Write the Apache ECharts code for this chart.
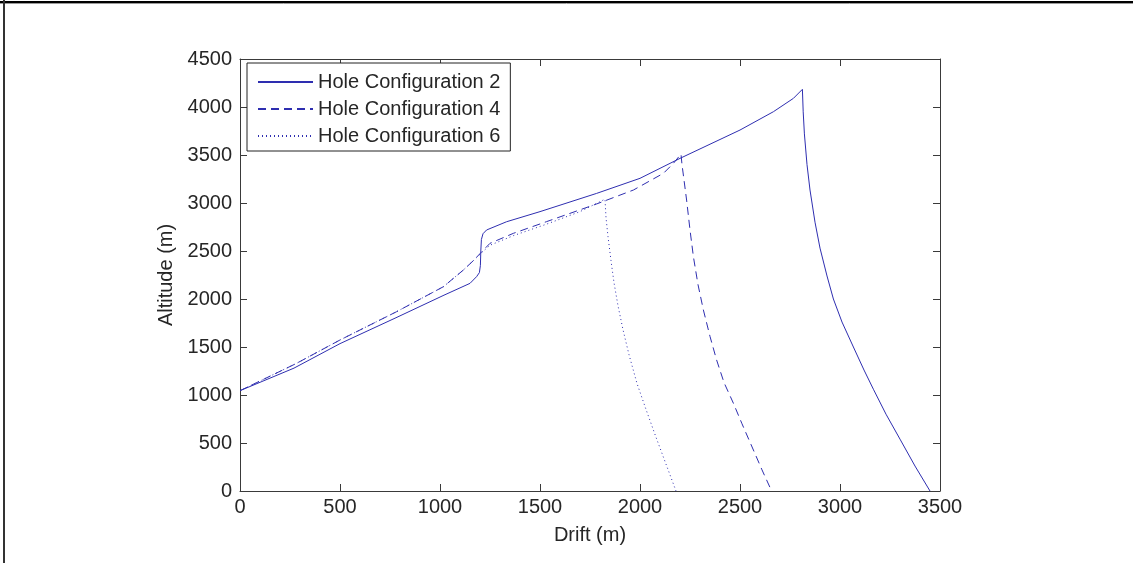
<!DOCTYPE html>
<html>
<head>
<meta charset="utf-8">
<script src="https://cdn.jsdelivr.net/npm/echarts@6/dist/echarts.min.js"></script>
<style>
html,body{margin:0;padding:0;background:#fff;}
#chart{width:1133px;height:563px;}
</style>
</head>
<body>
<div id="chart"></div>
<script>
// ---- data ----
const seriesNames = ['Hole Configuration 2', 'Hole Configuration 4', 'Hole Configuration 6'];
const xTicks = [0, 500, 1000, 1500, 2000, 2500, 3000, 3500];
const yTicks = [0, 500, 1000, 1500, 2000, 2500, 3000, 3500, 4000, 4500];

const drift2 = [0, 270, 500, 780, 1020, 1150, 1183, 1197, 1202, 1204, 1207, 1215, 1233, 1333, 1500, 1783, 2000, 2200, 2500, 2667, 2767, 2812, 2816, 2822, 2835, 2850, 2875, 2900, 2935, 2967, 3010, 3067, 3120, 3167, 3230, 3300, 3375, 3450];
const alt2   = [1045, 1280, 1535, 1805, 2040, 2163, 2233, 2275, 2350, 2500, 2620, 2680, 2719, 2805, 2910, 3100, 3257, 3465, 3760, 3951, 4090, 4184, 3950, 3720, 3400, 3135, 2800, 2530, 2240, 2000, 1760, 1500, 1260, 1060, 800, 540, 260, 0];

const drift4 = [0, 283, 500, 783, 1017, 1117, 1167, 1217, 1250, 1367, 1533, 1783, 1967, 2117, 2167, 2205, 2210, 2233, 2250, 2267, 2290, 2317, 2350, 2383, 2420, 2467, 2510, 2567, 2610, 2658];
const alt4   = [1045, 1330, 1573, 1868, 2128, 2302, 2400, 2510, 2580, 2684, 2806, 2990, 3135, 3309, 3413, 3510, 3400, 3031, 2720, 2441, 2150, 1885, 1610, 1365, 1130, 914, 700, 427, 220, 0];

const drift6 = [0, 283, 500, 783, 1017, 1117, 1167, 1217, 1250, 1367, 1533, 1700, 1825, 1830, 1840, 1855, 1870, 1890, 1915, 1945, 1985, 2030, 2080, 2130, 2180];
const alt6   = [1045, 1330, 1573, 1868, 2128, 2302, 2400, 2500, 2560, 2660, 2780, 2910, 3040, 2850, 2650, 2400, 2170, 1930, 1680, 1420, 1120, 850, 560, 280, 0];

function pairs(xs, ys) { return xs.map((x, i) => [x, ys[i]]); }

const lineColor = '#2e2eb0';
const textColor = '#262626';
const axisColor = '#3a3a3a';
const font = 'Liberation Sans, Arial, sans-serif';

const chart = echarts.init(document.getElementById('chart'), null, {renderer: 'canvas'});

function plain(v) { return String(v); }

function xAxisBase(pos, showLabel) {
  return {
    type: 'value', position: pos, min: xTicks[0], max: xTicks[xTicks.length - 1], interval: 500,
    axisLine: {show: true, onZero: false, lineStyle: {color: axisColor, width: 1}},
    axisTick: {show: true, inside: true, length: 7, lineStyle: {color: axisColor}},
    axisLabel: {show: showLabel, color: textColor, fontFamily: font, fontSize: 20, margin: 6, formatter: plain},
    splitLine: {show: false}
  };
}
function yAxisBase(pos, showLabel) {
  return {
    type: 'value', position: pos, min: yTicks[0], max: yTicks[yTicks.length - 1], interval: 500,
    axisLine: {show: true, onZero: false, lineStyle: {color: axisColor, width: 1}},
    axisTick: {show: true, inside: true, length: 7, lineStyle: {color: axisColor}},
    axisLabel: {show: showLabel, color: textColor, fontFamily: font, fontSize: 20, margin: 8, formatter: plain},
    splitLine: {show: false}
  };
}

const xa0 = xAxisBase('bottom', true);
xa0.name = 'Drift (m)';
xa0.nameLocation = 'middle';
xa0.nameGap = 34;
xa0.nameTextStyle = {color: textColor, fontFamily: font, fontSize: 20};
const ya0 = yAxisBase('left', true);
ya0.name = 'Altitude (m)';
ya0.nameLocation = 'middle';
ya0.nameGap = 62;
ya0.nameTextStyle = {color: textColor, fontFamily: font, fontSize: 20};

const option = {
  animation: false,
  backgroundColor: '#ffffff',
  grid: {left: 240, top: 59, width: 700, height: 432, containLabel: false},
  xAxis: [xa0, xAxisBase('top', false)],
  yAxis: [ya0, yAxisBase('right', false)],
  legend: {
    orient: 'vertical',
    left: 247, top: 63,
    padding: [9, 10, 5, 10],
    itemWidth: 55, itemHeight: 20, itemGap: 7,
    itemStyle: {opacity: 0},
    backgroundColor: '#ffffff',
    borderColor: '#222222', borderWidth: 1,
    textStyle: {color: textColor, fontFamily: font, fontSize: 20},
    data: seriesNames
  },
  series: [
    {name: seriesNames[0], type: 'line', data: pairs(drift2, alt2), symbol: 'none', showSymbol: false,
     lineStyle: {color: lineColor, width: 1, type: 'solid'}, itemStyle: {color: lineColor}},
    {name: seriesNames[1], type: 'line', data: pairs(drift4, alt4), symbol: 'none', showSymbol: false,
     lineStyle: {color: lineColor, width: 1, type: [8, 5]}, itemStyle: {color: lineColor}},
    {name: seriesNames[2], type: 'line', data: pairs(drift6, alt6), symbol: 'none', showSymbol: false,
     lineStyle: {color: lineColor, width: 1, type: [1, 3]}, itemStyle: {color: lineColor}}
  ],
  graphic: [
    {type: 'line', shape: {x1: 0, y1: 2, x2: 1133, y2: 2}, style: {stroke: '#000000', lineWidth: 2}, silent: true},
    {type: 'line', shape: {x1: 0, y1: 3.5, x2: 1133, y2: 3.5}, style: {stroke: '#9a9a9a', lineWidth: 1}, silent: true},
    {type: 'line', shape: {x1: 4, y1: 0, x2: 4, y2: 563}, style: {stroke: '#333333', lineWidth: 2}, silent: true}
  ]
};
chart.setOption(option);
</script>
</body>
</html>
